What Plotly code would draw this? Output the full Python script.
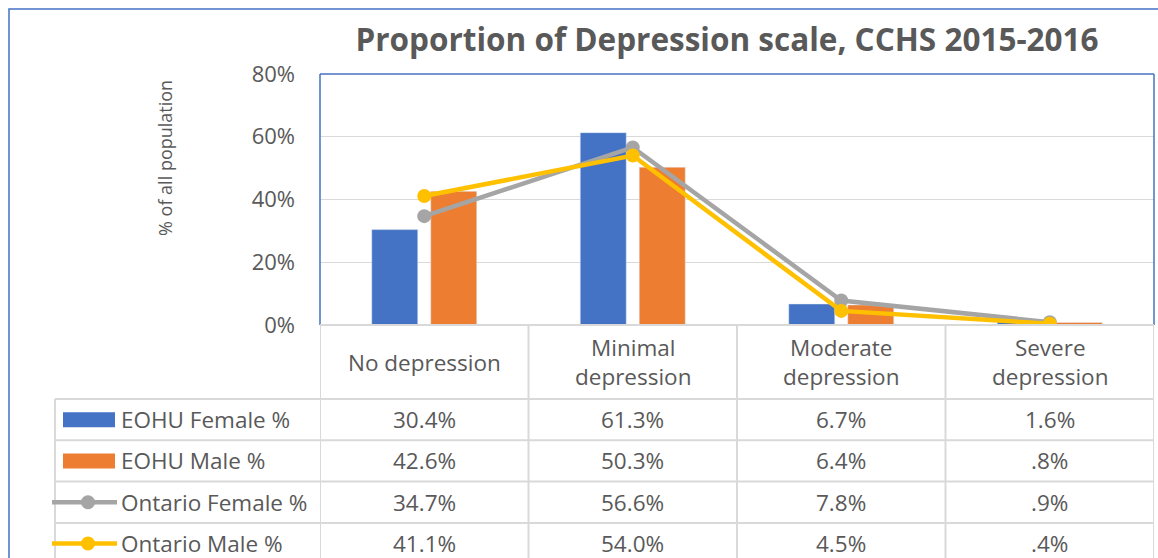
import plotly.graph_objects as go

W, H = 1158, 558

categories = ["No depression", "Minimal depression", "Moderate depression", "Severe depression"]
category_labels = ["No depression", "Minimal<br>depression", "Moderate<br>depression", "Severe<br>depression"]
eohu_female = [30.4, 61.3, 6.7, 1.6]
eohu_male = [42.6, 50.3, 6.4, 0.8]
ontario_female = [34.7, 56.6, 7.8, 0.9]
ontario_male = [41.1, 54.0, 4.5, 0.4]
y_ticks = [0, 20, 40, 60, 80]

BLUE = "#4472C4"
ORANGE = "#ED7D31"
GREY = "#A5A5A5"
YELLOW = "#FFC000"
TEXT = "#595959"
GRID = "#D9D9D9"
FONT = "Open Sans"


def fx(px):
    return px / W


def fy(py):
    return 1 - py / H


def fmt(v):
    s = f"{v:.1f}%"
    return s[1:] if s.startswith("0") else s


fig = go.Figure()
fig.add_trace(go.Bar(x=categories, y=eohu_female, name="EOHU Female %", marker_color=BLUE))
fig.add_trace(go.Bar(x=categories, y=eohu_male, name="EOHU Male %", marker_color=ORANGE))
fig.add_trace(go.Scatter(
    x=categories, y=ontario_female, name="Ontario Female %", mode="lines+markers",
    line=dict(color=GREY, width=4.5), marker=dict(color=GREY, size=14),
))
fig.add_trace(go.Scatter(
    x=categories, y=ontario_male, name="Ontario Male %", mode="lines+markers",
    line=dict(color=YELLOW, width=4.5), marker=dict(color=YELLOW, size=14),
))

fig.update_layout(
    width=W, height=H,
    autosize=False,
    margin=dict(l=0, r=0, t=0, b=0, autoexpand=False),
    paper_bgcolor="white", plot_bgcolor="white",
    showlegend=False,
    barmode="group", bargap=0.434, bargroupgap=0.22,
    font=dict(family=FONT, color=TEXT),
    title=dict(
        text="<b>Proportion of Depression scale, CCHS 2015-2016</b>",
        x=fx(727), y=fy(40), xanchor="center", yanchor="middle",
        font=dict(size=31.5, color=TEXT, family=FONT),
    ),
    xaxis=dict(
        domain=[fx(320), fx(1154)], range=[-0.5, 3.5],
        showticklabels=False, showgrid=False, zeroline=False, showline=False,
    ),
    yaxis=dict(
        domain=[fy(325), fy(74)], range=[0, 80],
        tickmode="array", tickvals=y_ticks,
        ticktext=[f"{t}%" for t in y_ticks],
        tickfont=dict(size=22, color=TEXT),
        ticklabelstandoff=24,
        showgrid=True, gridcolor=GRID, gridwidth=1,
        zeroline=False, showline=False, automargin=False,
    ),
)

shapes = []
annotations = []

# outer chart border and plot-area border
shapes.append(dict(type="rect", xref="paper", yref="paper",
                   x0=fx(9), x1=fx(1162), y0=fy(9), y1=fy(562),
                   line=dict(color=BLUE, width=1.5)))
for (x0, y0, x1, y1) in [(320, 74, 1154, 74), (320, 74, 320, 325), (1154, 74, 1154, 325)]:
    shapes.append(dict(type="line", xref="paper", yref="paper",
                       x0=fx(x0), x1=fx(x1), y0=fy(y0), y1=fy(y1),
                       line=dict(color=BLUE, width=1.5)))

# data table grid
row_top = 399
row_h = 41.3
rows = [
    ("EOHU Female %", eohu_female, "bar", BLUE),
    ("EOHU Male %", eohu_male, "bar", ORANGE),
    ("Ontario Female %", ontario_female, "line", GREY),
    ("Ontario Male %", ontario_male, "line", YELLOW),
]
grid = dict(color=GRID, width=2)
shapes.append(dict(type="line", xref="paper", yref="paper",
                   x0=fx(320), x1=fx(1154), y0=fy(325), y1=fy(325), line=grid))
for k in range(len(rows) + 1):
    yy = row_top + k * row_h
    shapes.append(dict(type="line", xref="paper", yref="paper",
                       x0=fx(55), x1=fx(1154), y0=fy(yy), y1=fy(yy), line=grid))
shapes.append(dict(type="line", xref="paper", yref="paper",
                   x0=fx(55), x1=fx(55), y0=fy(row_top), y1=fy(570), line=grid))
for i in range(len(categories) + 1):
    shapes.append(dict(type="line", xref="x", yref="paper",
                       x0=i - 0.5, x1=i - 0.5, y0=fy(325), y1=fy(570), line=grid))

# category header row
for i, lab in enumerate(category_labels):
    annotations.append(dict(x=i, y=fy(362), xref="x", yref="paper", text=lab,
                            showarrow=False, xanchor="center", yanchor="middle",
                            font=dict(size=22.5, color=TEXT)))

# series rows with legend keys
for k, (name, vals, kind, color) in enumerate(rows):
    cy = row_top + (k + 0.5) * row_h
    if kind == "bar":
        shapes.append(dict(type="rect", xref="paper", yref="paper",
                           x0=fx(63), x1=fx(115), y0=fy(cy - 7.5), y1=fy(cy + 7.5),
                           fillcolor=color, line=dict(width=0)))
    else:
        shapes.append(dict(type="line", xref="paper", yref="paper",
                           x0=fx(52), x1=fx(117), y0=fy(cy), y1=fy(cy),
                           line=dict(color=color, width=4.5)))
        shapes.append(dict(type="circle", xref="paper", yref="paper",
                           x0=fx(81), x1=fx(95), y0=fy(cy - 7), y1=fy(cy + 7),
                           fillcolor=color, line=dict(width=0)))
    annotations.append(dict(x=fx(119), y=fy(cy), xref="paper", yref="paper", text=name,
                            showarrow=False, xanchor="left", yanchor="middle",
                            font=dict(size=22.5, color=TEXT)))
    for i, v in enumerate(vals):
        annotations.append(dict(x=i, y=fy(cy), xref="x", yref="paper", text=fmt(v),
                                showarrow=False, xanchor="center", yanchor="middle",
                                font=dict(size=22.5, color=TEXT)))

# y-axis title
annotations.append(dict(x=fx(165), y=fy(158), xref="paper", yref="paper",
                        text="% of all population", textangle=-90, showarrow=False,
                        xanchor="center", yanchor="middle",
                        font=dict(size=18, color=TEXT)))

fig.update_layout(shapes=shapes, annotations=annotations)
fig.write_html(
    "out.html",
    config={"displayModeBar": False},
    post_script="document.body.style.margin='0';document.body.style.overflow='hidden';",
)
